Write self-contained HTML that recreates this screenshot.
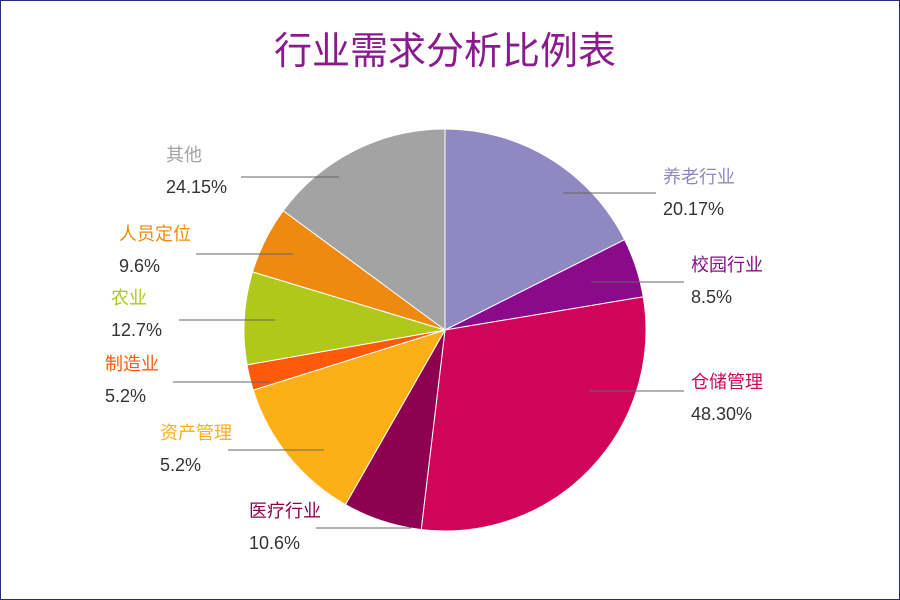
<!DOCTYPE html>
<html><head><meta charset="utf-8"><style>
body{margin:0;background:#fff}
#wrap{width:898px;height:598px;border:1px solid #2a2a7a;position:relative;overflow:hidden}
svg text{font-family:"Liberation Sans","Noto Sans CJK SC",sans-serif}
</style></head><body>
<div id="wrap">
<svg id="chart" width="898" height="598">
<text x="444" y="63" text-anchor="middle" font-size="38" fill="#8b1a8e">行业需求分析比例表</text>
</svg>
</div>
<script>
const categories=["养老行业","校园行业","仓储管理","医疗行业","资产管理","制造业","农业","人员定位","其他"];
const values=[63.3,17.2,106.3,22.9,42.9,7.4,26.8,19.6,53.6];
const pctLabels=["20.17%","8.5%","48.30%","10.6%","5.2%","5.2%","12.7%","9.6%","24.15%"];
const colors=["#9088c0","#8b0a8c","#d0055a","#8e0052","#fdb016","#ff5a0a","#b0c81a","#ee8a10","#a3a3a3"];
// label layout: [lineX1,lineX2,lineY,textX,textY1]
const layout=[[562,655,192,662,182],[590,683,281,690,270],[588,683,390,690,387],[315,410,527,248,516],[227,323,449,159,438],[172,268,381,104,369],[178,274,319,110,303],[195,292,253,118,239],[240,338,176,165,160]];
const svg=document.getElementById('chart');const NS="http://www.w3.org/2000/svg";
const cx=444,cy=329,r=201;
const total=values.reduce((a,b)=>a+b,0);
let acc=0;
function pt(a){return [cx+r*Math.sin(a),cy-r*Math.cos(a)];}
values.forEach((v,i)=>{
 const a0=acc/total*2*Math.PI;acc+=v;const a1=acc/total*2*Math.PI;
 const p0=pt(a0),p1=pt(a1);const large=(a1-a0)>Math.PI?1:0;
 const p=document.createElementNS(NS,'path');
 p.setAttribute('d',`M${cx},${cy}L${p0[0]},${p0[1]}A${r},${r} 0 ${large} 1 ${p1[0]},${p1[1]}Z`);
 p.setAttribute('fill',colors[i]);p.setAttribute('stroke','#fff');p.setAttribute('stroke-width','1');
 
 
 svg.appendChild(p);
});
layout.forEach((l,i)=>{
 const ln=document.createElementNS(NS,'line');
 ln.setAttribute('x1',l[0]);ln.setAttribute('x2',l[1]);ln.setAttribute('y1',l[2]);ln.setAttribute('y2',l[2]);
 ln.setAttribute('stroke','#666');ln.setAttribute('stroke-width','1');
 
 
 svg.appendChild(ln);
 const t=document.createElementNS(NS,'text');
 t.setAttribute('x',l[3]);t.setAttribute('y',l[4]);t.setAttribute('font-size','18');t.setAttribute('fill',colors[i]);
 t.textContent=categories[i];
 
 
 svg.appendChild(t);
 const t2=document.createElementNS(NS,'text');
 t2.setAttribute('x',l[3]);t2.setAttribute('y',l[4]+32);t2.setAttribute('font-size','18');t2.setAttribute('fill','#333');
 t2.textContent=pctLabels[i];
 
 
 svg.appendChild(t2);
});
</script>
</body></html>
